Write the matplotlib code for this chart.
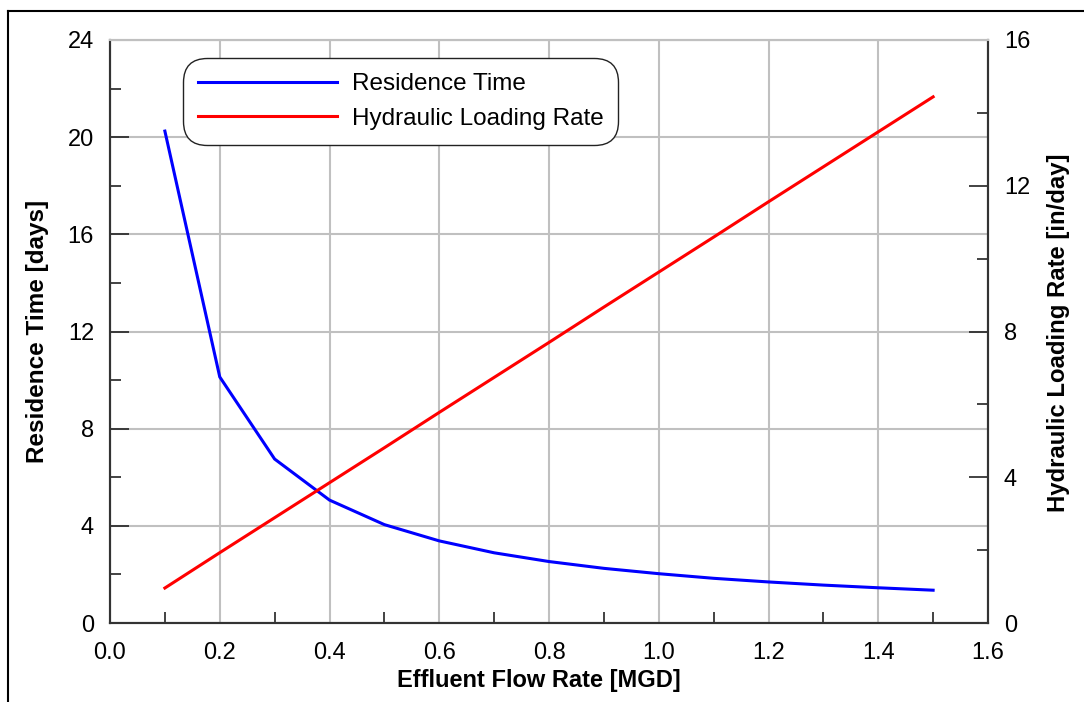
import matplotlib
matplotlib.use("Agg")
import matplotlib.pyplot as plt
from matplotlib.lines import Line2D
from matplotlib.ticker import MultipleLocator, FormatStrFormatter

plt.rcParams['font.family'] = ['Liberation Sans', 'DejaVu Sans']

# data
flow = [0.1, 0.2, 0.3, 0.4, 0.5, 0.6, 0.7, 0.8, 0.9, 1.0, 1.1, 1.2, 1.3, 1.4, 1.5]
residence = [20.25, 10.13, 6.75, 5.06, 4.05, 3.38, 2.89, 2.53, 2.25, 2.03, 1.84, 1.69, 1.56, 1.45, 1.35]
hlr = [0.96, 1.93, 2.89, 3.85, 4.81, 5.78, 6.74, 7.70, 8.67, 9.63, 10.59, 11.56, 12.52, 13.48, 14.44]

fig = plt.figure(figsize=(10.84, 7.02), dpi=100)
ax = fig.add_axes([110/1084, 1-623/702, 878/1084, 583/702])
ax2 = ax.twinx()

l1, = ax.plot(flow, residence, color='#0000ff', lw=2.2, label='Residence Time')
l2, = ax2.plot(flow, hlr, color='#ff0000', lw=2.2, label='Hydraulic Loading Rate')

ax.set_xlim(0, 1.6)
ax.set_ylim(0, 24)
ax2.set_ylim(0, 16)
ax.xaxis.set_major_locator(MultipleLocator(0.2))
ax.xaxis.set_minor_locator(MultipleLocator(0.1))
ax.yaxis.set_major_locator(MultipleLocator(4))
ax.yaxis.set_minor_locator(MultipleLocator(2))
ax2.yaxis.set_major_locator(MultipleLocator(4))
ax2.yaxis.set_minor_locator(MultipleLocator(2))
ax.xaxis.set_major_formatter(FormatStrFormatter('%.1f'))

ax.grid(True, which='major', color='#c0c0c0', lw=1.5)
ax.set_axisbelow(True)

ax.tick_params(axis='x', which='major', length=0, labelsize=17, pad=14)
ax.tick_params(axis='x', which='minor', direction='in', length=8, width=1.2, color='#222222')
ax.tick_params(axis='y', which='major', direction='in', length=14, width=1.2, color='#222222', labelsize=17, pad=11.5)
ax.tick_params(axis='y', which='minor', direction='in', length=8, width=1.2, color='#222222')
ax2.tick_params(axis='y', which='major', direction='in', length=14, width=1.2, color='#222222', labelsize=17, pad=11.5)
ax2.tick_params(axis='y', which='minor', direction='in', length=8, width=1.2, color='#222222')

for a in (ax, ax2):
    a.spines['top'].set_color('#c0c0c0')
    a.spines['top'].set_linewidth(1.5)
    for s in ('left', 'right', 'bottom'):
        a.spines[s].set_color('#333333')
        a.spines[s].set_linewidth(1.5)

ax.set_xlabel('Effluent Flow Rate [MGD]', fontsize=17, fontweight='bold', labelpad=0)
ax.xaxis.set_label_coords((539-110)/878, (623-680)/583, transform=ax.transAxes)
ax.xaxis.label.set_va('center')
ax.set_ylabel('Residence Time [days]', fontsize=17.5, fontweight='bold')
ax.yaxis.set_label_coords((38-110)/878, (623-331)/583)
ax.yaxis.label.set_va('center')
ax2.set_ylabel('Hydraulic Loading Rate [in/day]', fontsize=17.2, fontweight='bold')
ax2.yaxis.set_label_coords((1058-110)/878, (623-333)/583)
ax2.yaxis.label.set_va('center')

leg = ax2.legend(handles=[l1, l2], loc='upper left', bbox_to_anchor=(0.0831, 0.969),
                 fontsize=17.5, frameon=True, fancybox=True, handlelength=5.7,
                 handletextpad=0.62, borderpad=0.62, borderaxespad=0, labelspacing=0.52,
                 framealpha=1)
leg.get_frame().set_edgecolor('#222222')
leg.get_frame().set_linewidth(1.0)
leg.get_frame().set_boxstyle('round,pad=0.0,rounding_size=1.0')

# outer frame lines
fig.add_artist(Line2D([8/1084, 8/1084], [0, 1-11/702], color='black', lw=1.5))
fig.add_artist(Line2D([8/1084, 1], [1-11/702, 1-11/702], color='black', lw=1.5))

fig.savefig('out.png', dpi=100)
